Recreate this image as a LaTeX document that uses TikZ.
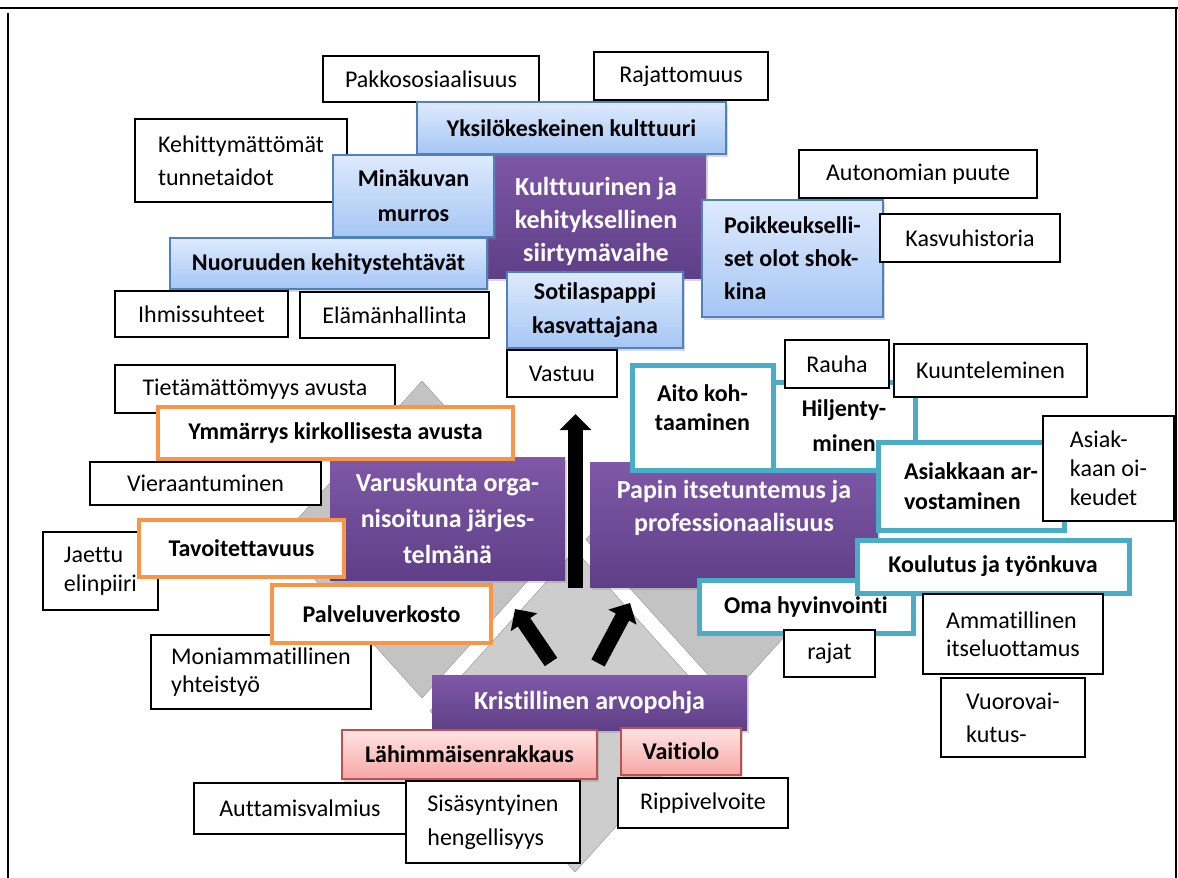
\documentclass[tikz,border=0pt]{standalone}
\usepackage{fontspec}
\setmainfont{Carlito}[Ligatures=NoCommon]
\usepackage{tikz}
\usetikzlibrary{arrows.meta,shadows}

\definecolor{lilahaut}{HTML}{7F58A7}
\definecolor{lilabas}{HTML}{5F3F87}
\definecolor{bleuhaut}{HTML}{DEEAFD}
\definecolor{bleubas}{HTML}{A6C6F4}
\definecolor{bleubord}{HTML}{4F81BD}
\definecolor{rosehaut}{HTML}{FFE4E4}
\definecolor{rosebas}{HTML}{F6A7A5}
\definecolor{rosebord}{HTML}{C0504D}
\definecolor{orangebord}{HTML}{F79646}
\definecolor{turqbord}{HTML}{4BACC6}
\definecolor{grislat}{HTML}{C3C3C3}
\definecolor{griscentre}{HTML}{CDCDCD}

\begin{document}
\begin{tikzpicture}[
		x=0.5pt, y=-0.5pt,
		sz/.style 2 args={minimum width=#1*0.5pt, minimum height=#2*0.5pt},
		boite/.style={inner sep=1pt, align=center, font=\fontsize{12}{16.5}\selectfont},
		ombre/.style={drop shadow={shadow xshift=1pt, shadow yshift=-1.5pt, opacity=0.3}},
		blanc/.style={boite, draw=black, line width=0.6pt, fill=white},
		lila/.style={boite, top color=lilahaut, bottom color=lilabas, text=white, font=\fontsize{13}{16.5}\selectfont\bfseries, ombre},
		bleu/.style={boite, draw=bleubord, line width=0.75pt, top color=bleuhaut, bottom color=bleubas, font=\fontsize{12}{16.5}\selectfont\bfseries, ombre},
		orangee/.style={boite, draw=orangebord, line width=2.25pt, fill=white, font=\fontsize{12}{16.5}\selectfont\bfseries},
		turq/.style={boite, draw=turqbord, line width=2.5pt, fill=white, font=\fontsize{12}{16.5}\selectfont\bfseries},
		rose/.style={boite, draw=rosebord, line width=0.75pt, top color=rosehaut, bottom color=rosebas, font=\fontsize{12}{16.5}\selectfont\bfseries, ombre},
		gauche/.style={align=left},
		fleche/.style={line width=7.5pt, -{Triangle[length=8pt, width=15.5pt]}},
		losange/.style={draw=gray!70, line width=0.3pt}
		]
		\useasboundingbox (0,0) rectangle (1178,878);
		
		% Le cadre
		\draw[line width=1pt] (0,8) -- (1178,8);
		\draw[line width=1pt] (8,13) -- (8,878);
		\draw[line width=1.2pt] (1176,8) -- (1176,878);
		
		% Les losanges
		\filldraw[losange, fill=grislat] (422,381) -- (565,539.5) -- (422,698) -- (279,539.5) -- cycle;
		\filldraw[losange, fill=grislat] (729,381) -- (872,539.5) -- (729,698) -- (586,539.5) -- cycle;
		\filldraw[losange, fill=griscentre] (575,550) -- (720,711) -- (575,872) -- (430,711) -- cycle;
		
		% Les flèches
		\coordinate (piedH) at (575.5,588);
		\coordinate (teteH) at (575.5,414);
		\coordinate (piedG) at (551,662);
		\coordinate (teteG) at (515,609);
		\coordinate (piedD) at (598,663);
		\coordinate (teteD) at (630,603);
		\draw[fleche] (piedH) -- (teteH);
		\draw[fleche] (piedG) -- (teteG);
		\draw[fleche] (piedD) -- (teteD);
		
		% En haut
		\node[blanc, sz={216}{46}] (pakko) at (431,79) {Pakkososiaalisuus};
		\node[blanc, sz={174}{48}] (rajatto) at (681,76) {Rajattomuus};
		\node[blanc, gauche, sz={212}{83}] (kehit) at (241,160.5) {Kehittymättömät\\tunnetaidot};
		\node[lila, sz={220}{130}, text height=50.5pt] (kult) at (596,213) {Kulttuurinen ja\\kehityksellinen\\siirtymävaihe};
		\node[bleu, sz={309}{52}] (yksil) at (571.5,128) {Yksilökeskeinen kulttuuri};
		\node[bleu, sz={161}{82}] (minak) at (413.5,196) {Minäkuvan\\[1pt]murros};
		\node[bleu, sz={317}{51}] (nuoru) at (328.5,263.5) {Nuoruuden kehitystehtävät};
		\node[bleu, gauche, sz={181}{117}] (poikk) at (792.5,258.5) {Poikkeukselli-\\set olot shok-\\kina};
		\node[bleu, sz={176}{76}] (sotil) at (595,310) {Sotilaspappi\\[0.5pt]kasvattajana};
		\node[blanc, sz={238}{48}] (auton) at (918,174) {Autonomian puute};
		\node[blanc, sz={180}{48}] (kasvu) at (970,238) {Kasvuhistoria};
		\node[blanc, sz={173}{46}] (ihmis) at (201.5,314) {Ihmissuhteet};
		\node[blanc, sz={189}{46}] (elama) at (394.5,315) {Elämänhallinta};
		\node[blanc, sz={110}{47}] (vastuu) at (562,373.5) {Vastuu};
		
		% A gauche
		\node[blanc, sz={280}{48}] (tietam) at (255,389) {Tietämättömyys avusta};
		\node[blanc, sz={231}{43}] (vieraan) at (205.5,483.5) {Vieraantuminen};
		\node[lila, sz={235}{123}] (varus) at (447.5,518.5) {Varuskunta orga-\\[1.5pt]nisoituna järjes-\\[1.5pt]telmänä};
		\node[orangee, sz={355}{52}] (ymmar) at (335.5,433) {Ymmärrys kirkollisesta avusta};
		\node[blanc, gauche, sz={115}{78}] (jaettu) at (100.5,571) {Jaettu\\[-2pt]elinpiiri};
		\node[orangee, sz={205}{57}] (tavoi) at (241.5,548.5) {Tavoitettavuus};
		\node[blanc, gauche, sz={220}{74}] (monia) at (261,672) {Moniammatillinen\\[-2.5pt]yhteistyö};
		\node[orangee, sz={219}{58}] (palve) at (381.5,614) {Palveluverkosto};
		
		% A droite
		\node[lila, sz={288}{125}, text depth=19pt] (papin) at (734,524.5) {Papin itsetuntemus ja\\professionaalisuus};
		\node[turq, sz={141}{105}, text depth=10pt] (aito) at (702.5,417.5) {Aito koh-\\[-2pt]taaminen};
		\node[turq, sz={142}{88}] (hilje) at (844,426) {Hiljenty-\\[1pt]minen};
		\node[blanc, sz={104}{48}] (rauha) at (837,364) {Rauha};
		\node[blanc, sz={193}{53}] (kuunt) at (990.5,370.5) {Kuunteleminen};
		\node[turq, gauche, sz={186}{88}] (asarv) at (971,486) {Asiakkaan ar-\\[-1.5pt]vostaminen};
		\node[blanc, gauche, sz={131}{105}] (asoik) at (1108.5,468.5) {Asiak-\\[-2pt]kaan oi-\\[-2pt]keudet};
		\node[turq, sz={214}{53}] (omahy) at (806,606.5) {Oma hyvinvointi};
		\node[turq, sz={272}{53}] (koulu) at (993,566.5) {Koulutus ja työnkuva};
		\node[blanc, sz={91}{47}] (rajat) at (829.5,653.5) {rajat};
		\node[blanc, gauche, sz={180}{80}] (ammat) at (1013,634) {Ammatillinen\\[-2.75pt]itseluottamus};
		\node[blanc, gauche, sz={144}{79}] (vuoro) at (1013,717.5) {Vuorovai-\\kutus-};
		
		% En bas
		\node[lila, sz={315}{55}] (krist) at (589.5,702.5) {Kristillinen arvopohja};
		\node[rose, sz={255}{49}] (lahim) at (469.5,754.5) {Lähimmäisenrakkaus};
		\node[rose, sz={120}{47}] (vaiti) at (681,751.5) {Vaitiolo};
		\node[blanc, sz={212}{51}] (autta) at (300,808.5) {Auttamisvalmius};
		\node[blanc, gauche, sz={174}{82}] (sisa) at (493,822) {Sisäsyntyinen\\[0.5pt]hengellisyys};
		\node[blanc, sz={170}{50}] (rippi) at (703,803) {Rippivelvoite};
	\end{tikzpicture}
\end{document}
